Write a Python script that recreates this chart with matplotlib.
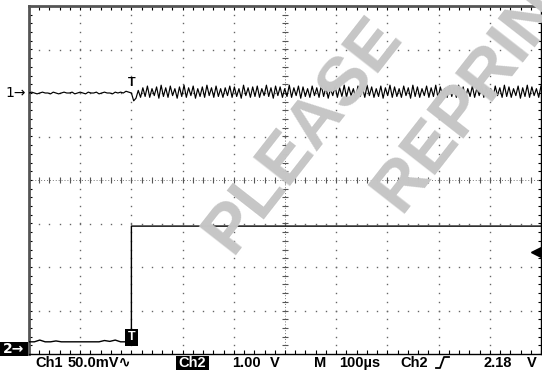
import numpy as np
import matplotlib
matplotlib.use("Agg")
import matplotlib.pyplot as plt
from matplotlib.patches import Rectangle

# ---- scope settings ----
ch1_mv_div = 50.0
ch2_v_div = 1.0
time_us_div = 100.0
ch1_pos_div = 2.0       # ch1 ground marker, divisions above centre
ch2_pos_div = -3.84     # ch2 ground marker
trig_level_v = 2.18
t_start, t_stop = -200.0, 800.0

# ---- ch1 (mV): before and after the trigger ----
ch1_pre_mv = [0, 1, 0, -1, 0, 1, 0, 0, -1, 1, 0, -1, 0, 1, 0, 0, 1, -1, 0, 1,
              0, -1, 1, 0, 0, 1, -1, 0, 1, 0, 0, -1, 1, 0, 1, 0, 2, 1, 0]
ch1_post_mv = [
    0, -9, -6, 3, -5, 6, -4, 8, -5, 5, -3, 7, -6, 9, -4, 6, -5, 8, -3, 5,
    -6, 7, -4, 9, -5, 6, -3, 8, -6, 5, -4, 7, -5, 9, -3, 6, -5, 8, -4, 5,
    -5, 6, -3, 8, -5, 7, -4, 5, -6, 9, -3, 6, -5, 7, -4, 8, -5, 5, -3, 9,
    -4, 6, -6, 8, -3, 7, -5, 5, -4, 9, -5, 6, -3, 8, -6, 7, -4, 5, -5, 8,
    -3, 6, -5, 9, -4, 7, -6, 5, -3, 8, -5, 6, -4, 9, -5, 7, -3, 5, -6, 8,
    -4, 6, -5, 9, -3, 7, -5, 5, -4, 8, -6, 6, -3, 9, -5, 7, -4, 5, -5, 8,
    -3, 6, -6, 9, -4, 7, -5, 5, -3, 8, -5, 6, -4, 9, -6, 7, -3, 5, -5, 8,
    -4, 6, -5, 9, -3, 7, -6, 5, -4, 8, -5, 6, -3, 9, -5, 7, -4, 5, -6, 8,
    -3, 6, -5, 9, -4, 7, -5, 5, -3, 8, -6, 6, -4, 9, -5, 7, -3, 5, -5, 8,
]

# ---- ch2 (V) ----
ch2_pre_v = [0.12, 0.12, 0.16, 0.12, 0.12, 0.14, 0.12, 0.12, 0.12, 0.12,
             0.12, 0.12, 0.12, 0.12, 0.15, 0.13, 0.16, 0.12, 0.12, 0.12]
ch2_high_v = 2.78

# bottom status line
lbl_ch1 = "Ch1"
lbl_ch1_scale = "50.0mV\u223f"
lbl_ch2 = "Ch2"
lbl_ch2_scale = ("1.00", "V")
lbl_time_m = "M"
lbl_time = "100\u00b5s"
lbl_trig_src = "Ch2"
lbl_trig_lvl = ("2.18", "V")

W, H = 542, 374
fig = plt.figure(figsize=(W / 100, H / 100), dpi=100)
fig.patch.set_facecolor("white")
left, right, top, bottom = 29, 541, 6, 354
ax = fig.add_axes([left / W, 1 - bottom / H, (right - left) / W, (bottom - top) / H])
ax.set_xlim(t_start, t_stop)
ax.set_ylim(-4, 4)
ax.set_xticks([])
ax.set_yticks([])
for s in ["left", "top"]:
    ax.spines[s].set_color("#555555")
    ax.spines[s].set_linewidth(2)
for s in ["right", "bottom"]:
    ax.spines[s].set_color("black")
    ax.spines[s].set_linewidth(1)


def px(x, y):
    return x / W, 1 - y / H


# watermark
wm = dict(color="#c6c6c6", fontsize=50, fontweight="bold", family="Liberation Sans",
          rotation=52, rotation_mode="anchor", ha="left", va="baseline", zorder=0)
fig.text(*px(232, 256), "PLEASE", **wm)
fig.text(*px(400, 214), "REPRINT", **wm)

# ---- graticule ----
dot = dict(ls="none", marker="s", ms=1.0, mec="none", mfc="#666666", zorder=2)
sub_t = np.arange(t_start, t_stop + 1, time_us_div / 5)
sub_y = np.arange(-4, 4.01, 0.2)
for tx in np.arange(t_start + time_us_div, t_stop, time_us_div):
    if tx == 300:
        continue
    ax.plot(np.full(sub_y.size, tx), sub_y, **dot)
for gy in range(-3, 4):
    if gy == 0:
        continue
    ax.plot(sub_t, np.full(sub_t.size, gy), **dot)
# centre cross
ax.plot([300, 300], [-4, 4], color="#777777", lw=0.7, ls=(0, (1, 2)), zorder=2)
ax.plot([t_start, t_stop], [0, 0], color="#777777", lw=0.7, ls=(0, (1, 2)), zorder=2)
ax.hlines(sub_y, 300 - 5, 300 + 5, color="#555555", lw=0.8, zorder=2)
ax.vlines(sub_t, -0.06, 0.06, color="#555555", lw=0.8, zorder=2)
# border ticks
ax.vlines(sub_t, 4 - 0.09, 4, color="black", lw=0.8, zorder=2)
ax.vlines(sub_t, -4, -4 + 0.09, color="black", lw=0.8, zorder=2)
ax.hlines(sub_y, t_start, t_start + 5, color="black", lw=0.8, zorder=2)
ax.hlines(sub_y, t_stop - 5, t_stop, color="black", lw=0.8, zorder=2)

# ---- traces ----
t1_pre = np.linspace(t_start, 0, len(ch1_pre_mv))
t1_post = np.linspace(0, t_stop, len(ch1_post_mv))
ch1_t = np.concatenate([t1_pre, t1_post])
ch1_y = ch1_pos_div + np.array(ch1_pre_mv + ch1_post_mv) / ch1_mv_div
ax.plot(ch1_t, ch1_y, color="black", lw=0.85, zorder=4)

t2_pre = np.linspace(t_start, 0, len(ch2_pre_v))
ch2_t = np.concatenate([t2_pre, [0, t_stop]])
ch2_vals = np.array(ch2_pre_v + [ch2_high_v, ch2_high_v])
ax.plot(ch2_t, ch2_pos_div + ch2_vals / ch2_v_div, color="black", lw=1.0, zorder=4)

# trigger position markers
ax.text(0, ch1_pos_div + 0.22, "T", ha="center", va="center", fontsize=9,
        family="Liberation Sans", fontweight="bold", zorder=5)
ax.text(0, ch2_pos_div + 0.22, "T", ha="center", va="center", fontsize=9,
        family="Liberation Sans", fontweight="bold", color="white", zorder=6,
        bbox=dict(boxstyle="square,pad=0.2", fc="black", ec="none"))

# trigger level arrow on the right
trig_y = ch2_pos_div + trig_level_v / ch2_v_div
ax.plot([t_stop - 10], [trig_y], marker="<", ms=7, color="black", clip_on=False, zorder=6)
ax.plot([t_stop - 10, t_stop], [trig_y, trig_y], color="black", lw=1, zorder=6)

# channel ground markers at left
fig.text(*px(5, 93), "1\u2192", fontsize=10, family="DejaVu Sans", va="center", ha="left")
fig.patches.append(Rectangle(px(0, 356), 28 / W, 14 / H, transform=fig.transFigure,
                             fc="black", ec="none"))
fig.text(*px(3, 349), "2\u2192", fontsize=10, family="DejaVu Sans", va="center", ha="left",
         color="white", fontweight="bold")

# ---- status line ----
st = dict(fontsize=10.5, family=["Liberation Sans", "DejaVu Sans"], fontweight="bold",
          va="center", ha="left")
fig.text(*px(35, 363), lbl_ch1, **st)
fig.text(*px(68, 363), lbl_ch1_scale, **st)
fig.patches.append(Rectangle(px(176, 370), 33 / W, 14 / H, transform=fig.transFigure,
                             fc="black", ec="none"))
fig.text(*px(178, 363), lbl_ch2, color="white", **st)
fig.text(*px(232, 363), lbl_ch2_scale[0], **st)
fig.text(*px(270, 363), lbl_ch2_scale[1], **st)
fig.text(*px(314, 363), lbl_time_m, **st)
fig.text(*px(339, 363), lbl_time, **st)
fig.text(*px(400, 363), lbl_trig_src, **st)
# rising-edge symbol
fig.lines.append(plt.Line2D([436 / W, 440 / W, 444 / W, 449 / W],
                            [1 - 368 / H, 1 - 368 / H, 1 - 357 / H, 1 - 357 / H],
                            transform=fig.transFigure, color="black", lw=1.3))
fig.text(*px(483, 363), lbl_trig_lvl[0], **st)
fig.text(*px(527, 363), lbl_trig_lvl[1], **st)

fig.savefig("out.png", dpi=100)
